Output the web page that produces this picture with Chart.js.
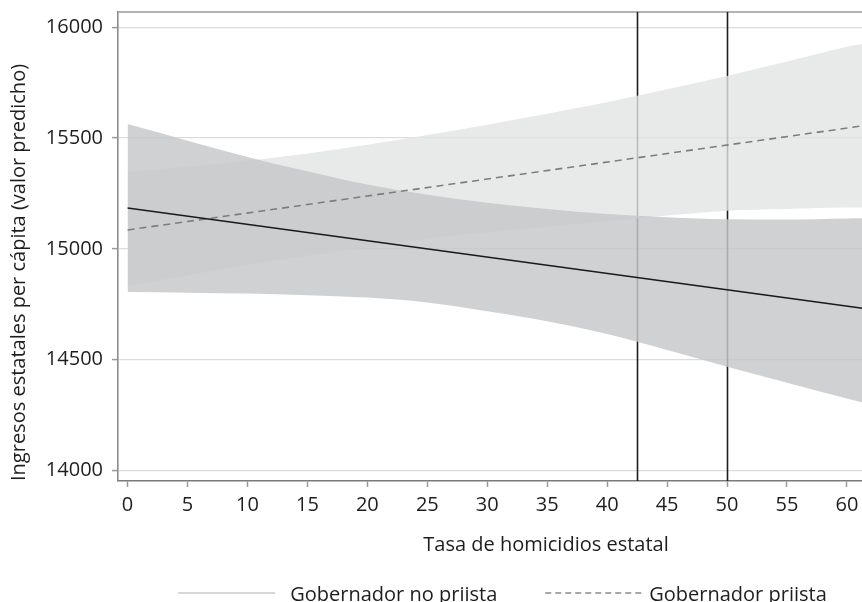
<!DOCTYPE html>
<html>
<head>
<meta charset="utf-8">
<script src="https://cdn.jsdelivr.net/npm/chart.js@4.4.1/dist/chart.umd.min.js"></script>
<style>
  html, body { margin: 0; padding: 0; background: #fff; overflow: hidden; }
  #view { width: 862px; height: 602px; overflow: hidden; position: relative; }
  #graph { width: 1005px; height: 602px; position: absolute; left: 0; top: 0; }
</style>
</head>
<body>
<div id="view"><div id="graph"><canvas id="c"></canvas></div></div>
<script>
// Predicted state revenue per capita vs. state homicide rate, with 95% bands
const seriesNames = ['Gobernador no priista', 'Gobernador priista'];
const xTitle = 'Tasa de homicidios estatal';
const yTitle = 'Ingresos estatales per cápita (valor predicho)';

const xTicks = [0, 5, 10, 15, 20, 25, 30, 35, 40, 45, 50, 55, 60];
const yTicks = [14000, 14500, 15000, 15500, 16000];
const xRange = [-0.8, 70.6];
const yRange = [13952, 16069];
const refLines = [42.5, 50];

// band edges sampled along the homicide rate
const xs = [0, 5, 10, 15, 20, 25, 30, 35, 40, 45, 50, 55, 60, 61.3];
const noPriUpper = [15563, 15488, 15415, 15350, 15290, 15244, 15208, 15180, 15157, 15142, 15133, 15132, 15137, 15138];
const noPriLower = [14805, 14802, 14798, 14791, 14780, 14758, 14718, 14673, 14615, 14543, 14468, 14396, 14324, 14306];
const priUpper   = [15348, 15370, 15397, 15430, 15470, 15514, 15560, 15610, 15662, 15720, 15780, 15845, 15912, 15926];
const priLower   = [14832, 14880, 14928, 14968, 15005, 15045, 15075, 15100, 15125, 15150, 15172, 15180, 15186, 15187];

// fitted lines (straight)
const fitX = [0, 61.3];
const noPriFit = [15184, 14732];
const priFit = [15085, 15555];

const pts = (xv, yv) => xv.map((x, i) => ({ x, y: yv[i] }));

const FONT = "'Open Sans', 'Noto Sans', sans-serif";
Chart.defaults.font.family = FONT;
Chart.defaults.font.size = 20;
Chart.defaults.color = '#1e1e1e';

const frameLines = {
  id: 'frameLines',
  beforeDatasetsDraw(chart) {
    const { ctx, chartArea: a, scales: { x } } = chart;
    ctx.save();
    ctx.strokeStyle = '#9a9a9a';
    ctx.lineWidth = 1.5;
    ctx.beginPath();
    ctx.moveTo(a.left, a.top);
    ctx.lineTo(a.right, a.top);
    ctx.stroke();
    ctx.strokeStyle = '#1e1e1e';
    ctx.lineWidth = 1.6;
    refLines.forEach(v => {
      const px = Math.round(x.getPixelForValue(v)) + 0.5;
      ctx.beginPath();
      ctx.moveTo(px, a.top);
      ctx.lineTo(px, a.bottom);
      ctx.stroke();
    });
    ctx.restore();
  }
};

const keyRow = {
  id: 'keyRow',
  afterDraw(chart) {
    const ctx = chart.ctx;
    const keys = [
      { label: seriesNames[0], color: '#c9c9c9', dash: [] },
      { label: seriesNames[1], color: '#8a8a8a', dash: [6, 4] }
    ];
    const keyLen = 97, gapKeyText = [15, 7], gapItems = 48;
    ctx.save();
    ctx.font = '20px ' + FONT;
    const tw = keys.map(k => ctx.measureText(k.label).width);
    const total = keyLen + gapKeyText[0] + tw[0] + gapItems + keyLen + gapKeyText[1] + tw[1];
    let x = chart.width / 2 - total / 2;
    const yLine = 593, yText = 601;
    keys.forEach((k, i) => {
      ctx.strokeStyle = k.color;
      ctx.lineWidth = 1.5;
      ctx.setLineDash(k.dash);
      ctx.beginPath();
      ctx.moveTo(x, yLine);
      ctx.lineTo(x + keyLen, yLine);
      ctx.stroke();
      ctx.setLineDash([]);
      x += keyLen + gapKeyText[i];
      ctx.fillStyle = '#1e1e1e';
      ctx.textBaseline = 'alphabetic';
      ctx.textAlign = 'left';
      ctx.fillText(k.label, x, yText);
      x += tw[i] + gapItems;
    });
    ctx.restore();
  }
};

const band = { borderWidth: 0, pointRadius: 0, cubicInterpolationMode: 'monotone' };

new Chart(document.getElementById('c'), {
  type: 'line',
  data: {
    datasets: [
      { ...band, label: seriesNames[1] + ' IC', data: pts(xs, priUpper), fill: '+1',
        backgroundColor: 'rgba(226,227,227,0.8)', order: 4 },
      { ...band, label: seriesNames[1] + ' IC inf', data: pts(xs, priLower), fill: false, order: 4 },
      { ...band, label: seriesNames[0] + ' IC', data: pts(xs, noPriUpper), fill: '+1',
        backgroundColor: 'rgba(199,200,202,0.83)', order: 3 },
      { ...band, label: seriesNames[0] + ' IC inf', data: pts(xs, noPriLower), fill: false, order: 3 },
      { label: seriesNames[1], data: pts(fitX, priFit), borderColor: '#7d7d7d',
        borderWidth: 1.6, borderDash: [7, 5], pointRadius: 0, fill: false, order: 2 },
      { label: seriesNames[0], data: pts(fitX, noPriFit), borderColor: '#1a1a1a',
        borderWidth: 1.6, pointRadius: 0, fill: false, order: 1 }
    ]
  },
  options: {
    responsive: true,
    maintainAspectRatio: false,
    animation: false,
    events: [],
    layout: { padding: { top: 12, right: 31, left: 0, bottom: 0 } },
    plugins: { legend: { display: false }, tooltip: { enabled: false } },
    scales: {
      x: {
        type: 'linear',
        min: xRange[0], max: xRange[1],
        afterBuildTicks: s => { s.ticks = xTicks.map(v => ({ value: v })); },
        afterFit: s => { s.height = 121; s.paddingLeft = 0; s.paddingRight = 0; },
        ticks: { padding: 6, maxRotation: 0, font: { size: 20 }, color: '#1e1e1e',
                 callback: v => String(v) },
        grid: { color: 'rgba(0,0,0,0)', tickColor: '#9a9a9a', tickLength: 6, tickWidth: 1.5 },
        border: { display: true, color: '#7a7a7a', width: 1.6 },
        title: { display: true, text: xTitle, font: { size: 20 }, color: '#1e1e1e',
                 padding: { top: 0, bottom: 45 } }
      },
      y: {
        type: 'linear',
        min: yRange[0], max: yRange[1],
        afterBuildTicks: s => { s.ticks = yTicks.map(v => ({ value: v })); },
        afterFit: s => { s.width = 118; s.paddingTop = 0; s.paddingBottom = 0; },
        ticks: { padding: 9, font: { size: 20 }, color: '#1e1e1e',
                 callback: v => String(v) },
        grid: { color: '#dcdcdc', lineWidth: 1.2, tickColor: '#9a9a9a', tickLength: 6, tickWidth: 1.5 },
        border: { display: true, color: '#8c8c8c', width: 1.6 },
        title: { display: true, text: yTitle, align: 'start', font: { size: 20 }, color: '#1e1e1e',
                 padding: { top: 7, bottom: 0 } }
      }
    }
  },
  plugins: [frameLines, keyRow]
});
</script>
</body>
</html>
